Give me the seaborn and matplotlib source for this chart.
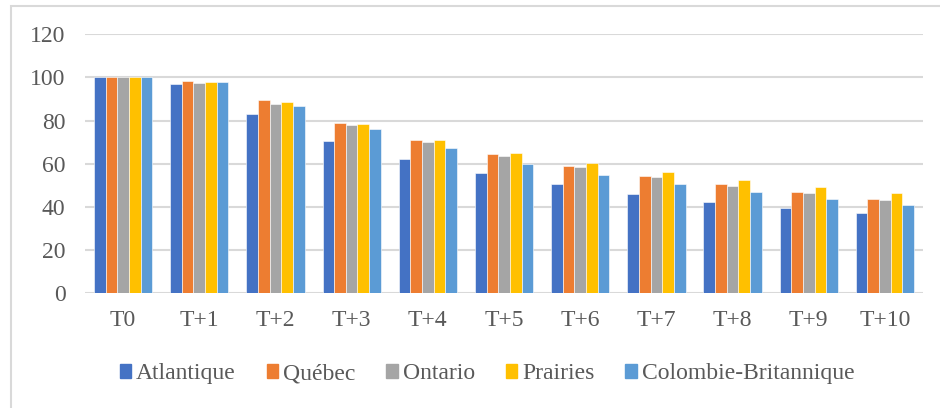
import matplotlib
matplotlib.use("Agg")
import matplotlib.pyplot as plt
import matplotlib.patches as mpatches
import seaborn as sns
import pandas as pd

periods = ["T0", "T+1", "T+2", "T+3", "T+4", "T+5", "T+6", "T+7", "T+8", "T+9", "T+10"]
atlantique = [100, 97.0, 82.9, 70.5, 62.0, 55.8, 50.5, 46.2, 42.3, 39.7, 37.0]
quebec = [100, 98.4, 89.4, 79.1, 71.2, 64.7, 59.2, 54.4, 50.5, 47.1, 43.9]
ontario = [100, 97.3, 87.7, 77.8, 70.0, 63.4, 58.6, 54.0, 49.9, 46.6, 43.3]
prairies = [100, 98.1, 88.4, 78.3, 70.8, 65.1, 60.3, 56.3, 52.7, 49.4, 46.3]
colombie_britannique = [100, 97.8, 87.0, 76.0, 67.1, 60.1, 55.0, 50.5, 47.1, 43.9, 40.7]

regions = ["Atlantique", "Québec", "Ontario", "Prairies", "Colombie-Britannique"]
series = [atlantique, quebec, ontario, prairies, colombie_britannique]
colors = ["#4472C4", "#ED7D31", "#A5A5A5", "#FFC000", "#5B9BD5"]

df = pd.DataFrame(
    [(p, r, v) for r, vals in zip(regions, series) for p, v in zip(periods, vals)],
    columns=["period", "region", "value"],
)

sns.set_theme(style="white")
plt.rcParams["font.family"] = ["Liberation Serif", "DejaVu Serif"]

fig = plt.figure(figsize=(9.4, 4.08), dpi=100)
ax = fig.add_axes([0.0904, 0.281, 0.8916, 0.635])

sns.barplot(
    data=df, x="period", y="value", hue="region",
    order=periods, hue_order=regions, palette=colors,
    width=0.765, gap=0, errorbar=None, ax=ax,
    edgecolor="white", linewidth=0.4, saturation=1,
)

ax.set_ylim(0, 120)
ax.set_yticks(range(0, 121, 20))
ax.set_xlim(-0.5, len(periods) - 0.5)
ax.grid(axis="y", color="#D9D9D9", linewidth=1.5)
ax.set_axisbelow(True)
for s in ax.spines.values():
    s.set_visible(False)
ax.set_xlabel("")
ax.set_ylabel("")
ax.tick_params(axis="y", length=0, pad=14, labelsize=17, labelcolor="#595959")
ax.tick_params(axis="x", length=0, pad=12, labelsize=17, labelcolor="#595959")

handles = [mpatches.Patch(color=c, label=r) for c, r in zip(colors, regions)]
ax.get_legend().remove()
fig.legend(
    handles=handles, loc="center", bbox_to_anchor=(0.518, 0.084), ncol=5,
    frameon=False, fontsize=17, handlelength=0.5, handleheight=0.5,
    handletextpad=0.2, columnspacing=1.3, labelcolor="#595959",
)

# outer chart border
fig.add_artist(mpatches.Rectangle(
    (11 / 940, -0.1), 1.0, 1.1 - 6 / 408, transform=fig.transFigure,
    fill=False, edgecolor="#D9D9D9", linewidth=1.5,
))

fig.savefig("out.png", dpi=100, facecolor="white")
